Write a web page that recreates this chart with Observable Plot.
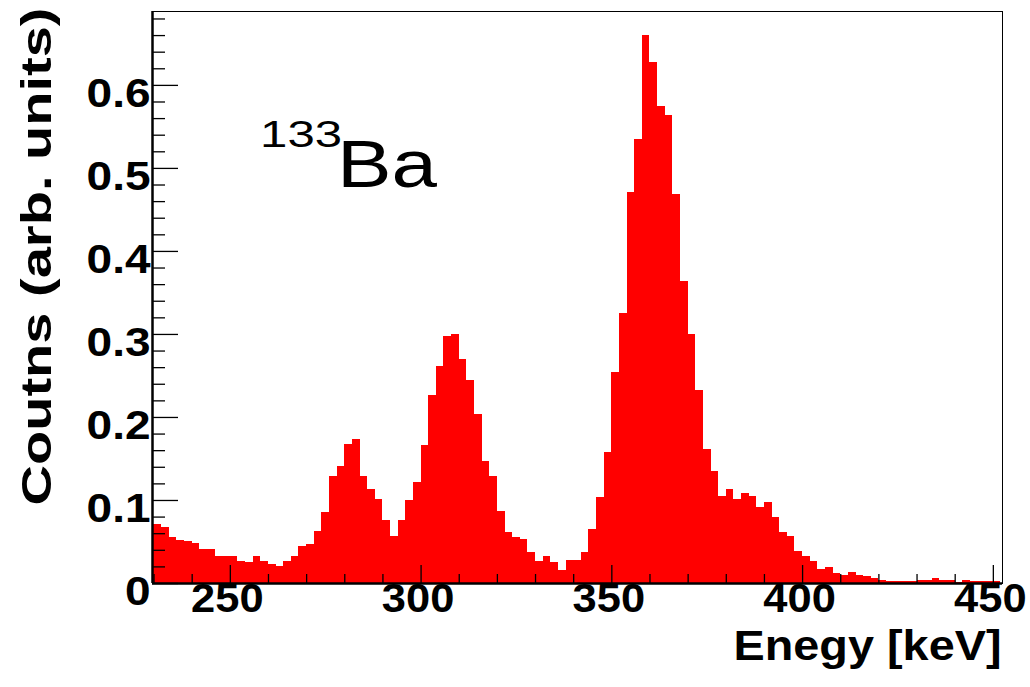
<!DOCTYPE html>
<html>
<head>
<meta charset="utf-8">
<script src="https://cdn.jsdelivr.net/npm/d3@7"></script>
<script src="https://cdn.jsdelivr.net/npm/@observablehq/plot@0.6"></script>
<style>
  html, body { margin: 0; padding: 0; background: #fff; }
  svg { display: block; }
</style>
</head>
<body>
<div id="chart"></div>
<script>
// ---- data: 2 keV histogram bins (lower edge) and their contents ----
const binLow = [
  228, 230, 232, 234, 236, 238, 240, 242, 244, 246, 248, 250, 252, 254, 256, 258,
  260, 262, 264, 266, 268, 270, 272, 274, 276, 278, 280, 282, 284, 286, 288, 290,
  292, 294, 296, 298, 300, 302, 304, 306, 308, 310, 312, 314, 316, 318, 320, 322,
  324, 326, 328, 330, 332, 334, 336, 338, 340, 342, 344, 346, 348, 350, 352, 354,
  356, 358, 360, 362, 364, 366, 368, 370, 372, 374, 376, 378, 380, 382, 384, 386,
  388, 390, 392, 394, 396, 398, 400, 402, 404, 406, 408, 410, 412, 414, 416, 418,
  420, 422, 424, 426, 428, 430, 432, 434, 436, 438, 440, 442, 444, 446, 448, 450
];
const counts = [
  0.071, 0.071, 0.067, 0.056, 0.052, 0.050, 0.048, 0.041, 0.041, 0.032, 0.032, 0.032, 0.026, 0.025, 0.032, 0.026,
  0.023, 0.021, 0.026, 0.033, 0.045, 0.047, 0.063, 0.085, 0.129, 0.141, 0.168, 0.173, 0.129, 0.113, 0.101, 0.076,
  0.057, 0.076, 0.100, 0.122, 0.166, 0.226, 0.261, 0.298, 0.300, 0.270, 0.245, 0.204, 0.147, 0.129, 0.087, 0.061,
  0.056, 0.053, 0.037, 0.026, 0.033, 0.025, 0.016, 0.028, 0.028, 0.037, 0.065, 0.103, 0.158, 0.254, 0.325, 0.471,
  0.535, 0.660, 0.627, 0.575, 0.564, 0.468, 0.364, 0.300, 0.232, 0.162, 0.135, 0.105, 0.113, 0.101, 0.109, 0.105,
  0.092, 0.098, 0.079, 0.061, 0.057, 0.039, 0.032, 0.026, 0.017, 0.019, 0.012, 0.010, 0.013, 0.010, 0.008, 0.006,
  0.004, 0.002, 0.002, 0.002, 0.003, 0.004, 0.004, 0.006, 0.004, 0.004, 0.001, 0.004, 0.002, 0.002, 0.002, 0.002
];
const binWidth = 2;

// ---- axes ----
const xDomain = [229.6, 452.4];
const yDomain = [0, 0.689];
const xTickValues = [250, 300, 350, 400, 450];
const xTickLabels = ["250", "300", "350", "400", "450"];
const xMinorTicks = [230, 240, 260, 270, 280, 290, 310, 320, 330, 340, 360, 370, 380, 390, 410, 420, 430, 440];
const yTickValues = [0, 0.1, 0.2, 0.3, 0.4, 0.5, 0.6];
const yTickLabels = ["0", "0.1", "0.2", "0.3", "0.4", "0.5", "0.6"];
const yMinorTicks = [0.02, 0.04, 0.06, 0.08, 0.12, 0.14, 0.16, 0.18, 0.22, 0.24, 0.26, 0.28,
  0.32, 0.34, 0.36, 0.38, 0.42, 0.44, 0.46, 0.48, 0.52, 0.54, 0.56, 0.58, 0.62, 0.64, 0.66, 0.68];
const xTitle = "Enegy [keV]";
const yTitle = "Coutns (arb. units)";
const isotopeMass = "133";
const isotopeSymbol = "Ba";

const bins = binLow.map((x0, i) => ({x1: x0, x2: x0 + binWidth, y: counts[i]}));

const W = 1030, H = 687, ML = 152, MR = 28, MT = 11, MB = 104;
const frameW = W - ML - MR, frameH = H - MT - MB;
const font = "'Liberation Sans', Arial, Helvetica, sans-serif";

const plot = Plot.plot({
  width: W, height: H,
  marginLeft: ML, marginRight: MR, marginTop: MT, marginBottom: MB,
  x: {domain: xDomain, axis: null},
  y: {domain: yDomain, axis: null},
  style: {fontFamily: font, background: "#fff", color: "#000", overflow: "visible"},
  marks: [
    Plot.rectY(bins, {x1: "x1", x2: "x2", y: "y", fill: "#ff0000", clip: true, shapeRendering: "crispEdges"}),
    Plot.frame({stroke: "#000", strokeWidth: 1}),
    Plot.ruleY([yDomain[0]], {stroke: "#000", strokeWidth: 2.5}),
    Plot.ruleX([xDomain[0]], {stroke: "#000", strokeWidth: 2.5}),
    // ticks (inside the frame)
    Plot.tickX(xTickValues, {x: d => d, insetTop: frameH - 18, stroke: "#000", strokeWidth: 1.3}),
    Plot.tickX(xMinorTicks, {x: d => d, insetTop: frameH - 9, stroke: "#000", strokeWidth: 1.3}),
    Plot.tickY(yTickValues, {y: d => d, insetRight: frameW - 26, stroke: "#000", strokeWidth: 1.3}),
    Plot.tickY(yMinorTicks, {y: d => d, insetRight: frameW - 13, stroke: "#000", strokeWidth: 1.3}),
    // tick labels (text mark #0 and #1)
    Plot.text(yTickValues, {y: d => d, text: (d, i) => yTickLabels[i], frameAnchor: "left",
      textAnchor: "end", dx: -2, dy: 9, fontSize: 40, fontWeight: "bold", fill: "#000"}),
    Plot.text(xTickValues, {x: d => d, text: (d, i) => xTickLabels[i], frameAnchor: "bottom",
      textAnchor: "middle", dx: -3, dy: 28.6, fontSize: 41, fontWeight: "bold", fill: "#000"}),
    // axis titles (#2, #3)
    Plot.text([xTitle], {text: d => d, frameAnchor: "bottom-right", textAnchor: "end",
      dx: -1, dy: 76.6, fontSize: 42, fontWeight: "bold", fill: "#000"}),
    Plot.text([yTitle], {text: d => d, frameAnchor: "left", rotate: -90, textAnchor: "middle",
      dx: -115.4, dy: -41, fontSize: 42, fontWeight: "bold", fill: "#000"}),
    // isotope annotation (#4, #5)
    Plot.text([isotopeMass], {text: d => d, frameAnchor: "top-left", textAnchor: "start",
      dx: 107.6, dy: 108.9, fontSize: 37, fill: "#000"}),
    Plot.text([isotopeSymbol], {text: d => d, frameAnchor: "top-left", textAnchor: "start",
      dx: 184.5, dy: 128.6, fontSize: 66, fill: "#000"})
  ]
});

document.getElementById("chart").append(plot);

const textGroups = plot.querySelectorAll('g[aria-label="text"]');
function stretch(idx, k, fixed) {
  const g = textGroups[idx];
  if (!g) return;
  g.querySelectorAll("text").forEach(t => {
    const L = fixed != null ? fixed : t.getComputedTextLength() * k;
    t.setAttribute("textLength", L);
    t.setAttribute("lengthAdjust", "spacingAndGlyphs");
  });
}
stretch(0, 1.15);
stretch(1, 1.06);
stretch(2, null, 268);
stretch(3, null, 498);
stretch(4, null, 82);
stretch(5, null, 100);
</script>
</body>
</html>
